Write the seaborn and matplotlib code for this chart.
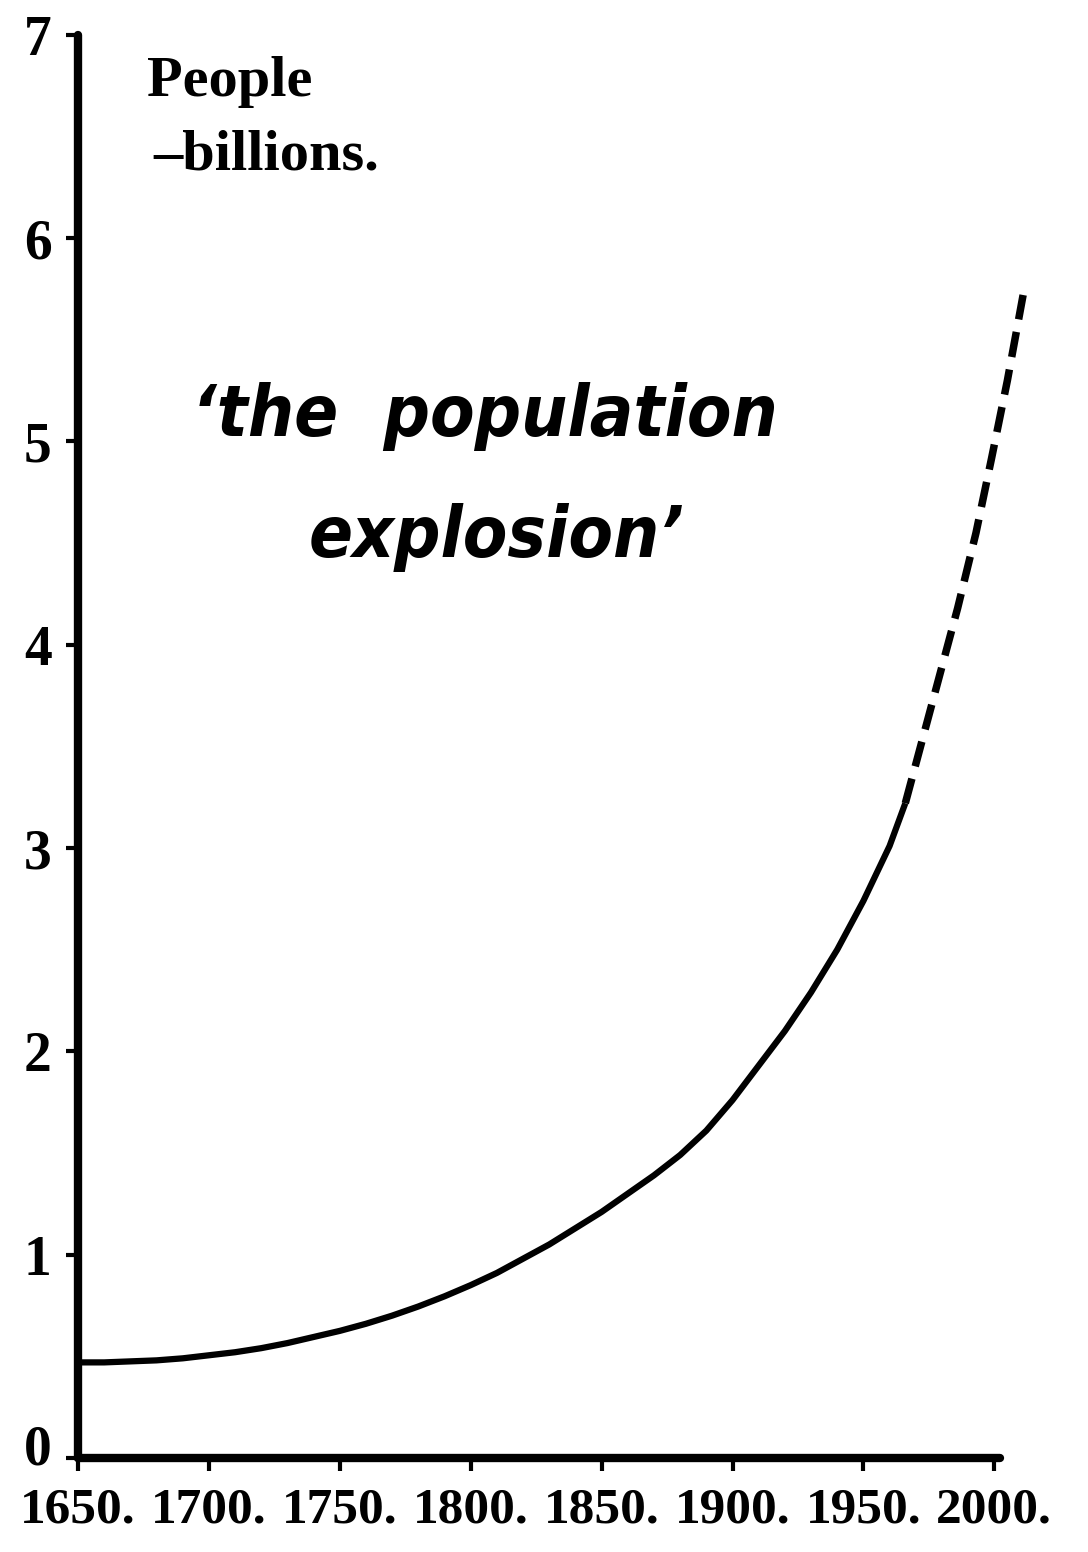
import matplotlib
matplotlib.use("Agg")
import matplotlib.pyplot as plt
import matplotlib.transforms as mtransforms
import seaborn as sns
import pandas as pd

# World population, billions
years_recorded = [1650, 1660, 1670, 1680, 1690, 1700, 1710, 1720, 1730, 1740,
                  1750, 1760, 1770, 1780, 1790, 1800, 1810, 1820, 1830, 1840,
                  1850, 1860, 1870, 1880, 1890, 1900, 1910, 1920, 1930, 1940,
                  1950, 1960, 1966]
people_recorded = [0.47, 0.47, 0.475, 0.48, 0.49, 0.505, 0.52, 0.54, 0.565, 0.595,
                   0.625, 0.66, 0.70, 0.745, 0.795, 0.85, 0.91, 0.98, 1.05, 1.13,
                   1.21, 1.30, 1.39, 1.49, 1.61, 1.76, 1.93, 2.10, 2.29, 2.50,
                   2.74, 3.01, 3.22]

years_projected = [1966, 1976, 1986, 1993, 1999, 2005, 2011]
people_projected = [3.22, 3.70, 4.18, 4.55, 4.92, 5.30, 5.72]

x_ticks = [1650, 1700, 1750, 1800, 1850, 1900, 1950, 2000]
x_tick_labels = ["1650.", "1700.", "1750.", "1800.", "1850.", "1900.", "1950.", "2000."]
y_ticks = [0, 1, 2, 3, 4, 5, 6, 7]

recorded = pd.DataFrame({"year": years_recorded, "people": people_recorded})
projected = pd.DataFrame({"year": years_projected, "people": people_projected})

sns.set_style("ticks")
plt.rcParams["font.family"] = ["Liberation Serif", "DejaVu Serif"]
plt.rcParams.update({
    "text.color": "black",
    "axes.edgecolor": "black",
    "axes.labelcolor": "black",
    "xtick.color": "black",
    "ytick.color": "black",
})

fig = plt.figure(figsize=(10.88, 15.52), dpi=100)
ax = fig.add_axes([0.0717, 0.0606, 0.847, 0.917])

sns.lineplot(data=recorded, x="year", y="people", ax=ax, color="black",
             linewidth=4.5, clip_on=False)
sns.lineplot(data=projected, x="year", y="people", ax=ax, color="black",
             linewidth=5.4, clip_on=False)
ax.lines[0].set_solid_capstyle("butt")
ax.lines[0].set_solid_joinstyle("round")
ax.lines[-1].set_dashes((3.4, 1.7))
ax.lines[-1].set_dash_capstyle("butt")

ax.set_xlim(1650, 2002)
ax.set_ylim(0, 7)
ax.set_xticks(x_ticks)
ax.set_xticklabels(x_tick_labels)
ax.set_yticks(y_ticks)
ax.set_yticklabels([str(v) for v in y_ticks])
ax.set_xlabel("")
ax.set_ylabel("")

sns.despine(ax=ax)
for side in ("left", "bottom"):
    ax.spines[side].set_linewidth(6)
    ax.spines[side].set_capstyle("round")

ax.tick_params(axis="x", direction="out", length=9, width=3, pad=12,
               labelsize=37)
ax.tick_params(axis="y", direction="out", length=9, width=3, pad=10,
               labelsize=40)
for lab in ax.get_xticklabels() + ax.get_yticklabels():
    lab.set_fontweight("bold")

# lift the zero label clear of the year labels
zero_label = ax.get_yticklabels()[0]
zero_label.set_transform(zero_label.get_transform()
                         + mtransforms.ScaledTranslation(0, 10 / 72,
                                                         fig.dpi_scale_trans))

# axis caption
fig.text(147 / 1088, 1 - 96 / 1552, "People", fontsize=42, fontweight="bold",
         ha="left", va="baseline")
fig.text(153 / 1088, 1 - 169 / 1552, "\u2013billions.", fontsize=42,
         fontweight="bold", ha="left", va="baseline")

# headline
headline_style = dict(fontsize=52, fontweight="bold", style="italic",
                      fontstretch="condensed", family=["DejaVu Sans"],
                      ha="center", va="baseline")
fig.text(485 / 1088, 1 - 436 / 1552, "\u2018the  population", **headline_style)
fig.text(497 / 1088, 1 - 557 / 1552, "explosion\u2019", **headline_style)

fig.savefig("out.png", dpi=100, facecolor="white")
